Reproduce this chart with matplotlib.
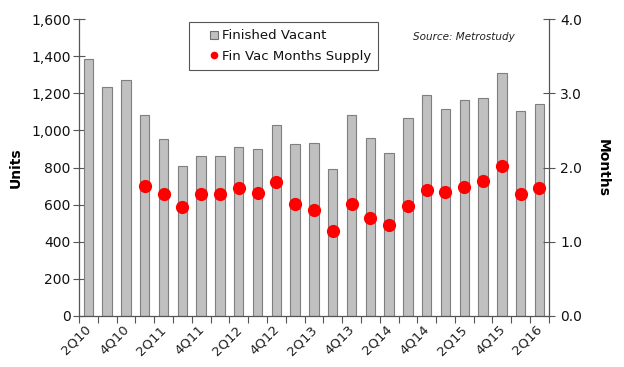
import numpy as np
import matplotlib
matplotlib.use("Agg")
import matplotlib.pyplot as plt
from matplotlib.lines import Line2D

quarters = ["2Q10", "3Q10", "4Q10", "1Q11", "2Q11", "3Q11", "4Q11", "1Q12", "2Q12",
            "3Q12", "4Q12", "1Q13", "2Q13", "3Q13", "4Q13", "1Q14", "2Q14", "3Q14",
            "4Q14", "1Q15", "2Q15", "3Q15", "4Q15", "1Q16", "2Q16"]
finished_vacant = [1385, 1232, 1271, 1083, 952, 808, 862, 862, 908, 898, 1031, 926, 930,
                   790, 1083, 960, 881, 1068, 1190, 1113, 1162, 1176, 1307, 1102, 1145]
# months supply starts at 1Q11
supply_quarters = quarters[3:]
months_supply = [1.75, 1.64, 1.47, 1.64, 1.64, 1.73, 1.66, 1.80, 1.51, 1.43, 1.15,
                 1.51, 1.32, 1.22, 1.48, 1.70, 1.67, 1.74, 1.82, 2.02, 1.64, 1.72]

fig = plt.figure(figsize=(6.24, 3.67), dpi=100)
ax = fig.add_axes([0.1266, 0.139, 0.753, 0.809])
ax2 = ax.twinx()

x = np.arange(len(quarters))
ax.bar(x, finished_vacant, width=0.5, color="#c0c0c0", edgecolor="#7f7f7f",
       linewidth=0.8, zorder=2)

xs = np.array([quarters.index(q) for q in supply_quarters])
ax2.plot(xs, months_supply, "o", color="#ff0000", markersize=9.5,
         markeredgewidth=0, zorder=3)

ax.set_xlim(-0.5, len(quarters) - 0.5)
ax.set_ylim(0, 1600)
ax.set_yticks(range(0, 1601, 200))
ax.set_yticklabels([f"{v:,}" for v in range(0, 1601, 200)])
ax2.set_ylim(0, 4)
ax2.set_yticks([0, 1, 2, 3, 4])
ax2.set_yticklabels(["0.0", "1.0", "2.0", "3.0", "4.0"])

# category boundaries get the tick marks, labels every other quarter
ax.set_xticks(np.arange(-0.5, len(quarters), 1.0))
ax.set_xticklabels([])
ax.set_xticks(x[::2] - 0.2, minor=True)
ax.set_xticklabels(quarters[::2], minor=True, rotation=45, ha="right",
                   rotation_mode="anchor", fontsize=9.5, color="#222222")
ax.tick_params(axis="x", which="minor", length=0, pad=5)
ax.tick_params(axis="x", which="major", direction="out", length=5, color="#555555")
ax.tick_params(axis="y", direction="inout", length=8, color="#555555", labelsize=10,
               labelcolor="#111111", pad=2)
ax2.tick_params(axis="y", direction="inout", length=8, color="#555555", labelsize=10,
                labelcolor="#111111", pad=4)

for a in (ax, ax2):
    a.spines["top"].set_visible(False)
    for s in ("left", "right", "bottom"):
        a.spines[s].set_color("#555555")
        a.spines[s].set_linewidth(0.9)
ax.spines["right"].set_visible(False)
ax2.spines["left"].set_visible(False)
ax2.spines["bottom"].set_visible(False)

ax.set_ylabel("Units", fontsize=10, fontweight="bold", labelpad=6)
ax2.set_ylabel("Months", fontsize=10, fontweight="bold", rotation=270, labelpad=20)

h_bar = Line2D([], [], linestyle="none", marker="s", markersize=6,
               markerfacecolor="#c0c0c0", markeredgecolor="#6f6f6f", markeredgewidth=0.8)
h_dot = Line2D([], [], linestyle="none", marker="o", markersize=5.5,
               markerfacecolor="#ff0000", markeredgewidth=0)
leg = ax.legend([h_bar, h_dot], ["Finished Vacant", "Fin Vac Months Supply"],
                loc="upper left", bbox_to_anchor=(0.234, 0.99), fancybox=False,
                framealpha=1, edgecolor="#555555", fontsize=9.5, handlelength=2.7,
                handletextpad=-0.75, borderpad=0.55, labelspacing=0.55,
                borderaxespad=0)
leg.get_frame().set_linewidth(0.8)
leg.set_zorder(5)
for t in leg.get_texts():
    t.set_color("#111111")

ax.text(0.71, 0.93, "Source: Metrostudy", transform=ax.transAxes, fontsize=7.5,
        style="italic", color="#222222")

fig.savefig("out.png", dpi=100)
